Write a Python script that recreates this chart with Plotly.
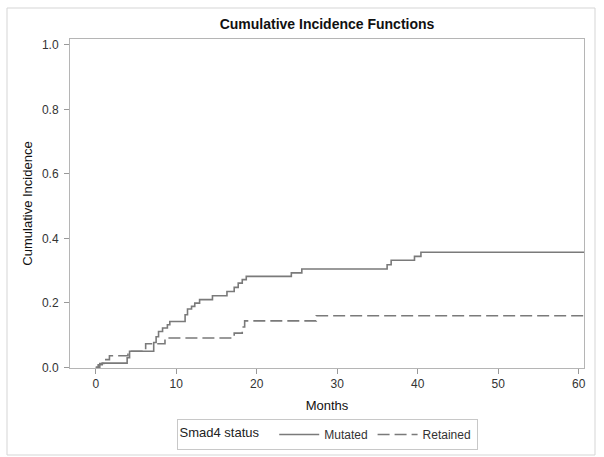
import plotly.graph_objects as go

# Mutated (solid) step function: event times (months) and cumulative incidence
mut_t = [0, 0.3, 0.8, 3.9, 4.2, 7.2, 7.5, 7.8, 8.3, 8.9, 9.2, 11.1, 11.4, 11.9, 12.3, 12.9,
         14.5, 16.3, 17.2, 17.7, 18.2, 18.7, 24.3, 25.6, 36.2, 36.7, 39.6, 40.4, 60.66]
mut_v = [0, 0.008, 0.013, 0.03, 0.05, 0.077, 0.095, 0.111, 0.122, 0.132, 0.142, 0.163, 0.181,
         0.189, 0.199, 0.21, 0.222, 0.235, 0.248, 0.261, 0.272, 0.282, 0.293, 0.305, 0.318,
         0.332, 0.344, 0.357, 0.357]

# Retained (dashed)
ret_t = [0, 0.5, 1.0, 1.7, 4.0, 6.2, 8.6, 17.2, 18.2, 18.5, 27.4, 60.66]
ret_v = [0, 0.012, 0.024, 0.036, 0.05, 0.073, 0.091, 0.106, 0.125, 0.144, 0.16, 0.16]

x_ticks = [0, 10, 20, 30, 40, 50, 60]
y_ticks = [0.0, 0.2, 0.4, 0.6, 0.8, 1.0]

FONT = "Liberation Sans, Arial, sans-serif"
LINE = "#7a7a7a"

fig = go.Figure()
fig.add_trace(go.Scatter(x=mut_t, y=mut_v, mode="lines", line_shape="hv", name="Mutated",
                         line=dict(color=LINE, width=1.6)))
fig.add_trace(go.Scatter(x=ret_t, y=ret_v, mode="lines", line_shape="hv", name="Retained",
                         line=dict(color=LINE, width=1.6, dash="12px,5px")))

W, H = 604, 457
L, R, T, B = 70, 20, 39, 89
pw, ph = W - L - R, H - T - B

def px_x(p):
    return (p - L) / pw

def px_y(p):
    return (H - B - p) / ph

fig.update_layout(
    width=W, height=H,
    margin=dict(l=L, r=R, t=T, b=B, autoexpand=False),
    paper_bgcolor="white", plot_bgcolor="white",
    font=dict(family=FONT, color="#222", size=12),
    title=dict(text="<b>Cumulative Incidence Functions</b>", x=0.5, xref="paper",
               y=1 - 24 / H, yref="container", xanchor="center", yanchor="middle",
               font=dict(size=14, color="#111")),
    xaxis=dict(range=[-3.2, 60.66], tickvals=x_ticks, ticks="outside", ticklen=5,
               tickcolor="#999", showline=True, linecolor="#b5b5b5", linewidth=1, mirror=True,
               showgrid=False, zeroline=False, tickfont=dict(size=12, color="#333"),
               automargin=False,
               title=dict(text="Months", standoff=10, font=dict(size=13, color="#111"))),
    yaxis=dict(range=[-0.002, 1.018], tickvals=y_ticks, tickformat=".1f", ticks="outside",
               ticklen=5, tickcolor="#999", showline=True, linecolor="#b5b5b5", linewidth=1,
               mirror=True, showgrid=False, zeroline=False, tickfont=dict(size=12, color="#333"),
               ticklabelstandoff=3, automargin=False,
               title=dict(text="Cumulative Incidence", standoff=6,
                          font=dict(size=13, color="#111"))),
    legend=dict(orientation="h", x=0.5, xanchor="center", y=px_y(419), yanchor="top",
                bordercolor="#c8c8c8", borderwidth=1, bgcolor="white",
                font=dict(size=12, color="#333"), itemwidth=40,
                title=dict(text="Smad4 status  ", side="left", font=dict(size=13, color="#222")),
                tracegroupgap=0),
    shapes=[dict(type="rect", xref="paper", yref="paper",
                 x0=px_x(7), x1=px_x(595), y0=px_y(455), y1=px_y(8),
                 line=dict(color="#d5d5d5", width=1), fillcolor="rgba(0,0,0,0)", layer="below")],
)

fig.write_html("out.html", config={"displayModeBar": False},
               post_script="document.body.style.margin='0';document.body.style.padding='0';")
